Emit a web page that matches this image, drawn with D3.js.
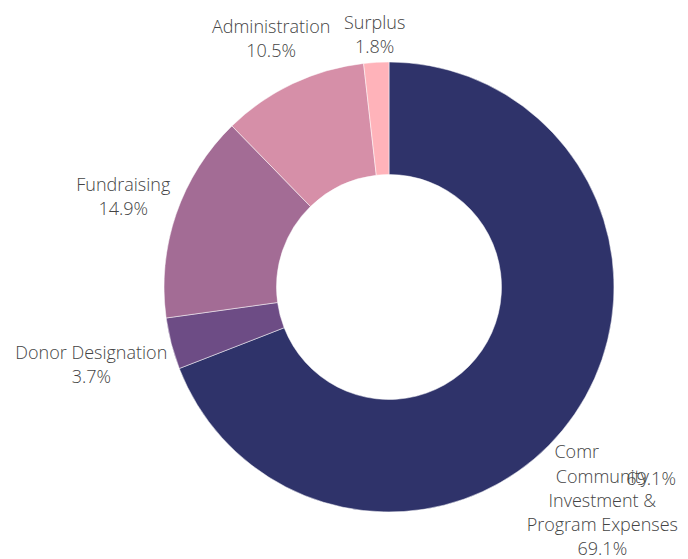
<!DOCTYPE html>
<html>
<head>
<meta charset="utf-8">
<script src="https://cdn.jsdelivr.net/npm/d3@7"></script>
<style>
  html, body { margin: 0; padding: 0; background: #fff; }
  svg text { font-family: "Open Sans", sans-serif; font-weight: 300; fill: #444; }
</style>
</head>
<body>
<svg id="chart"></svg>
<script>
const width = 688, height = 559;

// data (percent of total)
const categories = ['Community Investment & Program Expenses', 'Donor Designation', 'Fundraising', 'Administration', 'Surplus'];
const labelLines = [['Community', 'Investment &', 'Program Expenses'], ['Donor Designation'], ['Fundraising'], ['Administration'], ['Surplus']];
const values = [69.1, 3.7, 14.9, 10.5, 1.8];
const colors = ['#2f336a', '#6d4c85', '#a36c95', '#d68fa8', '#ffb3ba'];

const cx = 389, cy = 287, outerR = 225, innerR = outerR * 0.5;
const fontSize = 18, lineH = 24;

const svg = d3.select('#chart').attr('width', width).attr('height', height);
const g = svg.append('g').attr('transform', `translate(${cx},${cy})`);

const data = categories.map((c, i) => ({ name: c, lines: labelLines[i], value: values[i], color: colors[i] }));
const pie = d3.pie().sort(null).value(d => d.value);
const arc = d3.arc().innerRadius(innerR).outerRadius(outerR);
const arcs = pie(data);

g.selectAll('path.slice')
    .data(arcs)
    .enter().append('path')
    .attr('class', 'slice')
    .attr('d', arc)
    .attr('fill', d => d.data.color)
    .attr('stroke', '#fff')
    .attr('stroke-width', 0.5);

// labels sit just outside the ring, nearest bbox edge touching a circle a bit bigger than the pie
const labelR = outerR + 3;
function placeLabel(sel, a) {
    const bb = sel.node().getBBox();
    const s = Math.sin(a), c = -Math.cos(a);
    const dist = labelR + bb.width / 2 * Math.abs(s) + bb.height / 2 * Math.abs(c);
    return { x: dist * s, y: dist * c, bb: bb };
}

arcs.forEach((d, i) => {
    const mid = (d.startAngle + d.endAngle) / 2;
    const lines = d.data.lines.concat([d.data.value.toFixed(1) + '%']);
    const t = g.append('text')
        .attr('text-anchor', 'middle')
        .attr('font-size', fontSize);
    lines.forEach((l, k) => {
        t.append('tspan').attr('x', 0).attr('y', k * lineH).text(l);
    });
    const p = placeLabel(t, mid);
    let tx = p.x - (p.bb.x + p.bb.width / 2);
    let ty = p.y - (p.bb.y + p.bb.height / 2);
    if (i === 0) {
        // stale copy left behind at the first layout spot
        const ghost = g.append('g').attr('transform', `translate(${p.x},${p.y})`);
        ghost.append('text').attr('font-size', fontSize).attr('text-anchor', 'end')
            .attr('x', -52).attr('y', -8).text('Comr');
        ghost.append('text').attr('font-size', fontSize).attr('text-anchor', 'middle')
            .attr('x', 0).attr('y', 19).text(lines[lines.length - 1]);
        // pushed into the bottom-right corner of the view
        tx = (width - cx - 10) - (p.bb.x + p.bb.width);
        ty = (height - cy + 1) - (p.bb.y + p.bb.height);
    }
    t.attr('transform', `translate(${tx},${ty})`);
});
</script>
</body>
</html>
